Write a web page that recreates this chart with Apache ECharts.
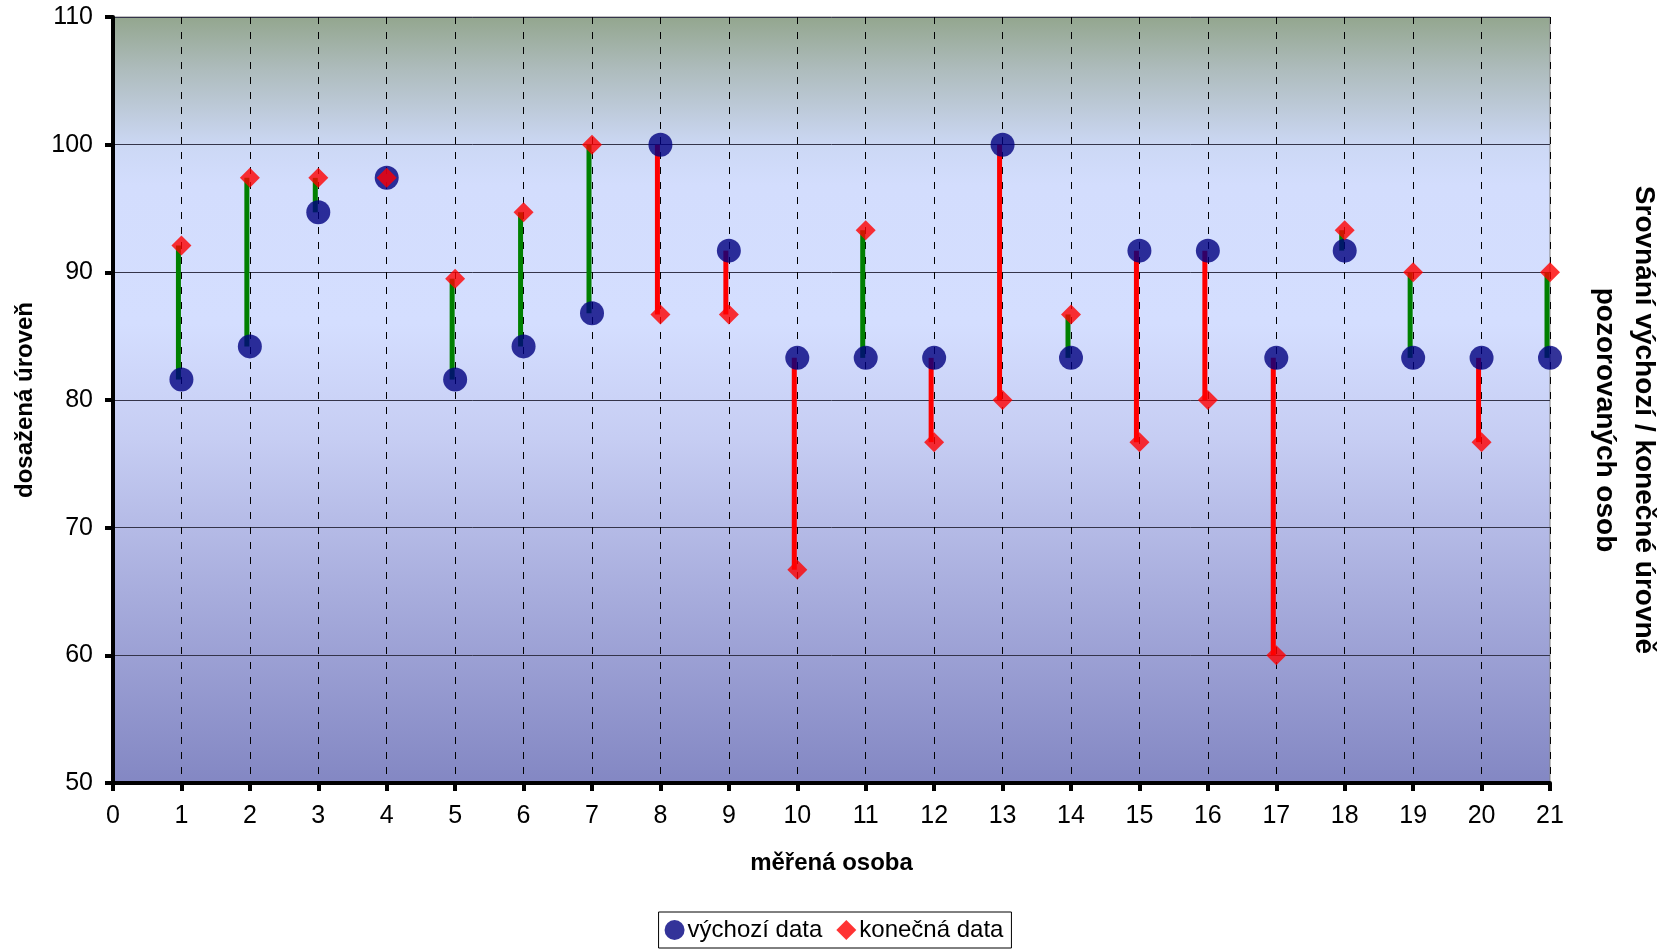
<!DOCTYPE html>
<html>
<head>
<meta charset="utf-8">
<script src="https://cdn.jsdelivr.net/npm/echarts@6/dist/echarts.min.js"></script>
<style>
  html, body { margin: 0; padding: 0; background: #fff; }
  #chart { width: 1668px; height: 950px; }
</style>
</head>
<body>
<div id="chart"></div>
<script>
// Measured persons 1..21
const persons = [1, 2, 3, 4, 5, 6, 7, 8, 9, 10, 11, 12, 13, 14, 15, 16, 17, 18, 19, 20, 21];
// Initial level of each person
const initialLevel = [81.6, 84.2, 94.7, 97.4, 81.6, 84.2, 86.8, 100, 91.7, 83.3, 83.3, 83.3, 100, 83.3, 91.7, 91.7, 83.3, 91.7, 83.3, 83.3, 83.3];
// Final level of each person
const finalLevel = [92.1, 97.4, 97.4, 97.4, 89.5, 94.7, 100, 86.7, 86.7, 66.7, 93.3, 76.7, 80, 86.7, 76.7, 80, 60, 93.3, 90, 76.7, 90];

const yTicks = { min: 50, max: 110, step: 10 };
const xTicks = { min: 0, max: 21, step: 1 };

const FONT = '"Liberation Sans", Arial, sans-serif';

const initialPts = persons.map((p, i) => [p, initialLevel[i]]);
const finalPts = persons.map((p, i) => [p, finalLevel[i]]);
const changePts = persons.map((p, i) => [p, initialLevel[i], finalLevel[i]]);

const chart = echarts.init(document.getElementById('chart'), null, { renderer: 'canvas' });

chart.setOption({
  animation: false,
  backgroundColor: '#ffffff',
  grid: {
    left: 113, right: 118, top: 17, bottom: 167,
    show: true,
    borderColor: '#808080',
    borderWidth: 1,
    backgroundColor: new echarts.graphic.LinearGradient(0, 0, 0, 1, [
      { offset: 0, color: '#93a68e' },
      { offset: 0.07, color: '#aebcbd' },
      { offset: 0.17, color: '#ccd8f5' },
      { offset: 0.22, color: '#d3ddfd' },
      { offset: 0.40, color: '#d4deff' },
      { offset: 0.55, color: '#c6cdf3' },
      { offset: 0.75, color: '#a8addd' },
      { offset: 1, color: '#8387c3' }
    ])
  },
  xAxis: {
    type: 'value',
    min: xTicks.min, max: xTicks.max, interval: xTicks.step,
    name: 'měřená osoba',
    nameLocation: 'middle',
    nameGap: 68,
    nameTextStyle: { fontFamily: FONT, fontSize: 24, fontWeight: 'bold', color: '#000' },
    axisLine: { show: true, onZero: false, lineStyle: { color: '#000', width: 4 } },
    axisTick: { show: true, length: 8, lineStyle: { color: '#000', width: 4 } },
    axisLabel: { margin: 21, fontFamily: FONT, fontSize: 25, color: '#000' },
    splitLine: { show: true, lineStyle: { color: '#000', width: 1, type: [7, 8] } }
  },
  yAxis: {
    type: 'value',
    min: yTicks.min, max: yTicks.max, interval: yTicks.step,
    name: 'dosažená úroveň',
    nameLocation: 'middle',
    nameGap: 76,
    nameRotate: 90,
    nameTextStyle: { fontFamily: FONT, fontSize: 24, fontWeight: 'bold', color: '#000' },
    axisLine: { show: true, onZero: false, lineStyle: { color: '#000', width: 4 } },
    axisTick: { show: true, length: 8, lineStyle: { color: '#000', width: 4 } },
    axisLabel: { margin: 20, fontFamily: FONT, fontSize: 25, color: '#000' },
    splitLine: { show: true, lineStyle: { color: '#34344a', width: 1 } }
  },
  legend: {
    bottom: 2,
    left: 'center',
    data: [
      { name: 'výchozí data', icon: 'circle' },
      { name: 'konečná data', icon: 'diamond' }
    ],
    itemWidth: 20,
    itemHeight: 20,
    itemGap: 14,
    padding: [6, 8, 6, 6],
    borderColor: '#000',
    borderWidth: 1,
    backgroundColor: '#fff',
    textStyle: { fontFamily: FONT, fontSize: 24, color: '#000', padding: [0, 0, 0, -2] }
  },
  graphic: [{
    type: 'text',
    x: 1624,
    y: 420,
    rotation: -Math.PI / 2,
    style: {
      text: 'Srovnání výchozí / konečné úrovně\npozorovaných osob',
      fontFamily: FONT,
      fontSize: 28,
      fontWeight: 'bold',
      fill: '#000',
      align: 'center',
      verticalAlign: 'middle',
      lineHeight: 39
    }
  }],
  series: [
    {
      // vertical bar showing change from initial to final level
      type: 'custom',
      name: 'změna',
      z: 2,
      data: changePts,
      renderItem: function (params, api) {
        const x = api.value(0);
        const a = api.value(1);
        const b = api.value(2);
        if (a === b) return null;
        const p1 = api.coord([x, a]);
        const p2 = api.coord([x, b]);
        return {
          type: 'line',
          shape: { x1: p1[0] - 3, y1: p1[1], x2: p2[0] - 3, y2: p2[1] },
          style: { stroke: b > a ? '#008000' : '#ff0000', lineWidth: 5 }
        };
      }
    },
    {
      type: 'scatter',
      name: 'výchozí data',
      z: 3,
      symbol: 'circle',
      symbolSize: 24,
      itemStyle: { color: '#000080' },
      data: initialPts
    },
    {
      type: 'scatter',
      name: 'konečná data',
      z: 4,
      symbol: 'diamond',
      symbolSize: [20, 20],
      itemStyle: { color: '#ff0000' },
      data: finalPts
    }
  ]
});
</script>
</body>
</html>
